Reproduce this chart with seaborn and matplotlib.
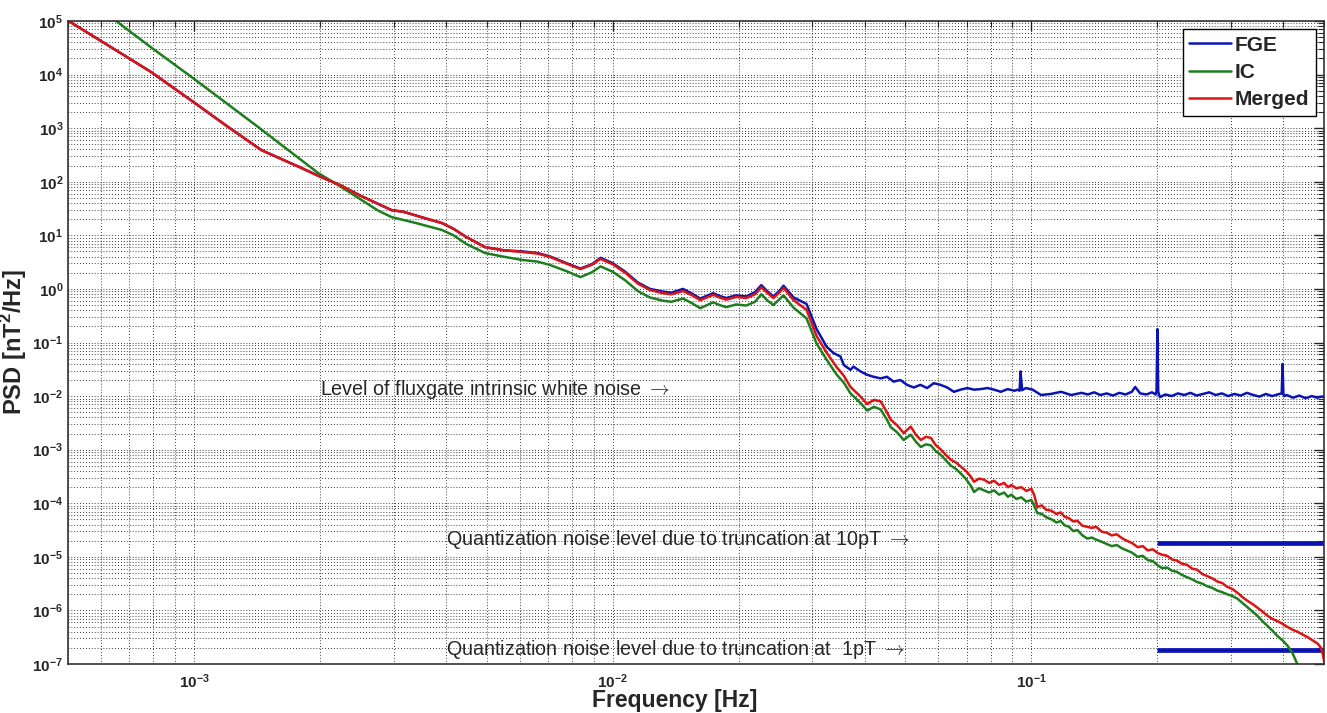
import numpy as np
import pandas as pd
import matplotlib
matplotlib.use("Agg")
import matplotlib.pyplot as plt
import seaborn as sns
from matplotlib.ticker import LogLocator, NullFormatter, FuncFormatter

# values, stored as log10(frequency [Hz]) and log10(PSD [nT^2/Hz])
merged_logf = [-3.31, -3.20, -3.103, -3.00, -2.92, -2.839, -2.79, -2.75, -2.70, -2.652,
               -2.60, -2.528, -2.50, -2.47, -2.44, -2.408, -2.38, -2.35, -2.305, -2.26,
               -2.216, -2.18, -2.151, -2.11, -2.077, -2.05, -2.029, -2.00, -1.97, -1.94,
               -1.911, -1.88, -1.86, -1.832, -1.81, -1.791, -1.76, -1.745, -1.729, -1.705,
               -1.681, -1.66, -1.645, -1.63, -1.616, -1.60, -1.592, -1.568, -1.537, -1.513,
               -1.489, -1.465, -1.448, -1.432, -1.408, -1.392, -1.376, -1.360, -1.345, -1.336,
               -1.320, -1.305, -1.288, -1.276, -1.264, -1.252, -1.240, -1.228, -1.216, -1.204,
               -1.192, -1.180, -1.168, -1.156, -1.144, -1.137, -1.125, -1.113, -1.101, -1.089,
               -1.077, -1.065, -1.056, -1.048, -1.036, -1.024, -1.012, -1.000, -0.993, -0.986,
               -0.975, -0.965, -0.952, -0.940, -0.930, -0.921, -0.910, -0.900, -0.890, -0.878,
               -0.866, -0.856, -0.845, -0.832, -0.820, -0.808, -0.796, -0.784, -0.772, -0.760,
               -0.746, -0.734, -0.722, -0.710, -0.698, -0.688, -0.676, -0.664, -0.652, -0.640,
               -0.628, -0.616, -0.604, -0.592, -0.580, -0.568, -0.556, -0.544, -0.532, -0.520,
               -0.508, -0.496, -0.484, -0.472, -0.460, -0.448, -0.436, -0.424, -0.412, -0.400,
               -0.388, -0.376, -0.364, -0.352, -0.340, -0.328, -0.316, -0.308, -0.303, -0.300]
merged_logpsd = [5.05, 4.52, 4.05, 3.48, 3.03, 2.59, 2.42, 2.28, 2.10, 1.94,
                 1.73, 1.47, 1.44, 1.37, 1.30, 1.23, 1.12, 0.97, 0.78, 0.72,
                 0.69, 0.66, 0.60, 0.47, 0.37, 0.45, 0.56, 0.46, 0.30, 0.10,
                 -0.02, -0.08, -0.10, -0.04, -0.12, -0.21, -0.11, -0.16, -0.20, -0.15,
                 -0.17, -0.10, 0.03, -0.08, -0.17, -0.05, 0.02, -0.21, -0.39, -0.88,
                 -1.19, -1.46, -1.62, -1.83, -2.01, -2.15, -2.07, -2.10, -2.30, -2.44,
                 -2.55, -2.69, -2.57, -2.72, -2.82, -2.76, -2.78, -2.92, -3.00, -3.10,
                 -3.19, -3.24, -3.32, -3.40, -3.51, -3.60, -3.54, -3.56, -3.62, -3.58,
                 -3.66, -3.62, -3.70, -3.66, -3.72, -3.70, -3.77, -3.73, -3.85, -4.07,
                 -4.04, -4.12, -4.14, -4.20, -4.17, -4.25, -4.28, -4.34, -4.33, -4.42,
                 -4.44, -4.46, -4.44, -4.53, -4.55, -4.60, -4.58, -4.65, -4.70, -4.74,
                 -4.82, -4.80, -4.88, -4.86, -4.93, -4.96, -4.98, -5.05, -5.07, -5.13,
                 -5.15, -5.22, -5.24, -5.32, -5.36, -5.40, -5.46, -5.49, -5.56, -5.60,
                 -5.67, -5.75, -5.82, -5.88, -5.95, -6.02, -6.10, -6.16, -6.20, -6.25,
                 -6.31, -6.36, -6.40, -6.45, -6.50, -6.56, -6.62, -6.70, -6.85, -6.98]

ic_logf = [-3.22, -3.103, -3.00, -2.85, -2.703, -2.652, -2.60, -2.56, -2.528, -2.47,
           -2.408, -2.38, -2.35, -2.305, -2.26, -2.216, -2.18, -2.151, -2.11, -2.077,
           -2.05, -2.029, -2.00, -1.97, -1.94, -1.911, -1.88, -1.86, -1.832, -1.81,
           -1.791, -1.76, -1.745, -1.729, -1.705, -1.681, -1.66, -1.645, -1.63, -1.616,
           -1.60, -1.592, -1.568, -1.537, -1.513, -1.489, -1.465, -1.448, -1.432, -1.408,
           -1.392, -1.376, -1.360, -1.345, -1.336, -1.320, -1.305, -1.288, -1.276, -1.264,
           -1.252, -1.240, -1.228, -1.216, -1.204, -1.192, -1.180, -1.168, -1.156, -1.144,
           -1.137, -1.125, -1.113, -1.101, -1.089, -1.077, -1.065, -1.056, -1.048, -1.036,
           -1.024, -1.012, -1.000, -0.993, -0.986, -0.975, -0.965, -0.952, -0.940, -0.930,
           -0.921, -0.910, -0.900, -0.890, -0.878, -0.866, -0.856, -0.845, -0.832, -0.820,
           -0.808, -0.796, -0.784, -0.772, -0.760, -0.746, -0.734, -0.722, -0.710, -0.698,
           -0.688, -0.676, -0.664, -0.652, -0.640, -0.628, -0.616, -0.604, -0.592, -0.580,
           -0.568, -0.556, -0.544, -0.532, -0.520, -0.508, -0.496, -0.484, -0.472, -0.460,
           -0.448, -0.436, -0.424, -0.412, -0.400, -0.388, -0.376, -0.366, -0.358]
ic_logpsd = [5.20, 4.51, 3.92, 3.04, 2.16, 1.92, 1.66, 1.46, 1.34, 1.23,
             1.10, 1.00, 0.84, 0.67, 0.60, 0.54, 0.51, 0.45, 0.33, 0.22,
             0.31, 0.42, 0.32, 0.16, -0.04, -0.16, -0.22, -0.24, -0.18, -0.27,
             -0.36, -0.25, -0.30, -0.34, -0.29, -0.31, -0.24, -0.10, -0.22, -0.30,
             -0.18, -0.12, -0.35, -0.55, -1.02, -1.32, -1.60, -1.75, -1.95, -2.13,
             -2.27, -2.20, -2.25, -2.44, -2.58, -2.68, -2.82, -2.72, -2.85, -2.95,
             -2.90, -2.92, -3.03, -3.10, -3.20, -3.30, -3.36, -3.45, -3.55, -3.68,
             -3.79, -3.72, -3.76, -3.80, -3.76, -3.84, -3.80, -3.88, -3.84, -3.92,
             -3.89, -3.97, -3.94, -4.05, -4.18, -4.20, -4.26, -4.30, -4.36, -4.33,
             -4.41, -4.44, -4.52, -4.50, -4.60, -4.66, -4.64, -4.68, -4.72, -4.76,
             -4.80, -4.78, -4.84, -4.88, -4.92, -5.00, -4.98, -5.06, -5.08, -5.16,
             -5.21, -5.20, -5.26, -5.28, -5.34, -5.38, -5.42, -5.47, -5.50, -5.55,
             -5.58, -5.63, -5.66, -5.70, -5.73, -5.78, -5.86, -5.94, -6.02, -6.10,
             -6.20, -6.29, -6.38, -6.48, -6.56, -6.66, -6.80, -6.98, -7.20]

fge_logf = [-3.31, -3.20, -3.103, -3.00, -2.92, -2.839, -2.79, -2.75, -2.70, -2.652,
            -2.60, -2.528, -2.50, -2.47, -2.44, -2.408, -2.38, -2.35, -2.305, -2.26,
            -2.216, -2.18, -2.151, -2.11, -2.077, -2.05, -2.029, -2.00, -1.97, -1.94,
            -1.911, -1.88, -1.86, -1.832, -1.81, -1.791, -1.76, -1.745, -1.729, -1.705,
            -1.681, -1.66, -1.645, -1.63, -1.616, -1.60, -1.592, -1.568, -1.537, -1.513,
            -1.489, -1.472, -1.456, -1.448, -1.432, -1.425, -1.408, -1.393, -1.377, -1.360,
            -1.345, -1.329, -1.313, -1.297, -1.281, -1.265, -1.249, -1.233, -1.217, -1.201,
            -1.185, -1.169, -1.153, -1.137, -1.121, -1.105, -1.089, -1.073, -1.057, -1.040,
            -1.033, -1.028, -1.026, -1.022, -1.013, -0.997, -0.977, -0.953, -0.929, -0.905,
            -0.880, -0.865, -0.850, -0.835, -0.820, -0.805, -0.790, -0.775, -0.760, -0.752,
            -0.740, -0.725, -0.712, -0.703, -0.701, -0.699, -0.697, -0.693, -0.680, -0.665,
            -0.650, -0.635, -0.620, -0.605, -0.590, -0.575, -0.560, -0.545, -0.530, -0.515,
            -0.500, -0.485, -0.470, -0.455, -0.440, -0.425, -0.412, -0.402, -0.400, -0.398,
            -0.396, -0.390, -0.375, -0.360, -0.345, -0.330, -0.318, -0.306, -0.300]
fge_logpsd = [5.05, 4.52, 4.05, 3.48, 3.03, 2.59, 2.42, 2.28, 2.10, 1.94,
              1.73, 1.47, 1.44, 1.37, 1.30, 1.23, 1.12, 0.97, 0.78, 0.72,
              0.70, 0.67, 0.61, 0.48, 0.38, 0.46, 0.58, 0.48, 0.32, 0.12,
              0.00, -0.05, -0.07, 0.00, -0.09, -0.18, -0.08, -0.13, -0.17, -0.12,
              -0.14, -0.06, 0.07, -0.05, -0.14, -0.02, 0.06, -0.16, -0.28, -0.75,
              -1.08, -1.20, -1.26, -1.42, -1.51, -1.45, -1.54, -1.60, -1.64, -1.67,
              -1.64, -1.73, -1.70, -1.79, -1.84, -1.79, -1.85, -1.76, -1.79, -1.84,
              -1.92, -1.88, -1.85, -1.88, -1.87, -1.85, -1.88, -1.92, -1.87, -1.90,
              -1.88, -1.90, -1.54, -1.89, -1.85, -1.88, -1.98, -1.96, -1.92, -1.98,
              -1.94, -1.97, -1.93, -1.98, -1.95, -1.99, -1.94, -1.97, -1.92, -1.83,
              -1.95, -1.97, -1.93, -1.97, -1.90, -0.75, -1.92, -2.02, -1.97, -2.00,
              -1.95, -1.98, -1.94, -1.99, -1.96, -1.93, -1.98, -1.95, -2.00, -1.96,
              -1.99, -1.94, -1.98, -2.01, -1.96, -2.00, -1.97, -1.95, -1.40, -1.96,
              -2.00, -1.98, -2.03, -1.99, -2.04, -2.00, -2.03, -2.01, -2.02]

series_names = ["FGE", "IC", "Merged"]
series_colors = ["#0a14b4", "#1e7d1e", "#dc1414"]

# quantization noise floors (10 pT and 1 pT truncation), drawn from 0.2 Hz up
quant_levels = [1.8e-5, 1.8e-7]
quant_fmin = 0.2

notes = [r"Level of fluxgate intrinsic white noise $\rightarrow$",
         r"Quantization noise level due to truncation at 10pT $\rightarrow$",
         r"Quantization noise level due to truncation at  1pT $\rightarrow$"]
note_f = [2.0e-3, 4.0e-3, 4.0e-3]
note_psd = [1.32e-2, 2.1e-5, 1.9e-7]

frames = []
for name, lf, lp in [("FGE", fge_logf, fge_logpsd),
                     ("IC", ic_logf, ic_logpsd),
                     ("Merged", merged_logf, merged_logpsd)]:
    frames.append(pd.DataFrame({"freq": 10 ** np.array(lf),
                                "psd": 10 ** np.array(lp),
                                "series": name}))
df = pd.concat(frames, ignore_index=True)

sns.set_theme(style="white")
plt.rcParams["font.family"] = ["Liberation Sans", "DejaVu Sans"]
plt.rcParams["mathtext.fontset"] = "custom"
plt.rcParams["mathtext.rm"] = "Liberation Sans"
plt.rcParams["mathtext.bf"] = "Liberation Sans:bold"
plt.rcParams["axes.unicode_minus"] = False

fig = plt.figure(figsize=(13.27, 7.13), dpi=100)
ax = fig.add_axes([68 / 1327, 1 - 664 / 713, (1324 - 68) / 1327, (664 - 21) / 713])

ax.hlines(quant_levels, quant_fmin, 0.5, colors=series_colors[0], lw=3.4, zorder=1.5)

sns.lineplot(data=df, x="freq", y="psd", hue="series", hue_order=series_names,
             palette=dict(zip(series_names, series_colors)), estimator=None,
             sort=False, linewidth=1.8, ax=ax)

ax.set_xscale("log")
ax.set_yscale("log")
ax.set_xlim(5e-4, 0.5)
ax.set_ylim(1e-7, 1e5)

decade_fmt = FuncFormatter(lambda v, pos: r"$\mathbf{10^{%d}}$" % round(np.log10(v)))
ax.yaxis.set_major_locator(LogLocator(base=10, numticks=20))
ax.yaxis.set_minor_locator(LogLocator(base=10, subs=np.arange(2, 10), numticks=20))
ax.xaxis.set_minor_locator(LogLocator(base=10, subs=np.arange(2, 10), numticks=20))
ax.xaxis.set_major_formatter(decade_fmt)
ax.yaxis.set_major_formatter(decade_fmt)
ax.xaxis.set_minor_formatter(NullFormatter())
ax.yaxis.set_minor_formatter(NullFormatter())

ax.grid(which="both", linestyle=(0, (1, 2.5)), color="black", linewidth=0.6)
ax.tick_params(which="both", direction="in", top=True, right=True, labelsize=11)
ax.tick_params(axis="x", which="major", pad=6)
ax.tick_params(which="major", length=7, width=1)
ax.tick_params(which="minor", length=4, width=0.8)
for sp in ax.spines.values():
    sp.set_color("#333333")
    sp.set_linewidth(1.2)

ax.set_xlabel("Frequency [Hz]", fontsize=16.5, fontweight="bold", va="baseline")
ax.xaxis.set_label_coords(0.483, -0.067, transform=ax.transAxes)
ax.set_ylabel(r"PSD [nT$^\mathbf{2}$/Hz]", fontsize=17, fontweight="bold", labelpad=2)

for txt, fx, py in zip(notes, note_f, note_psd):
    ax.text(fx, py, txt, fontsize=14.2, ha="left", va="center", math_fontfamily="cm")

handles, labels = ax.get_legend_handles_labels()
leg = ax.legend(handles, labels, loc="upper right", frameon=True, fancybox=False,
                edgecolor="black", framealpha=1, prop={"weight": "bold", "size": 15},
                handlelength=2.0, handletextpad=0.2, labelspacing=0.4,
                borderaxespad=0.4, borderpad=0.3)
leg.get_frame().set_linewidth(1.0)

fig.savefig("out.png", dpi=100, facecolor="white")
